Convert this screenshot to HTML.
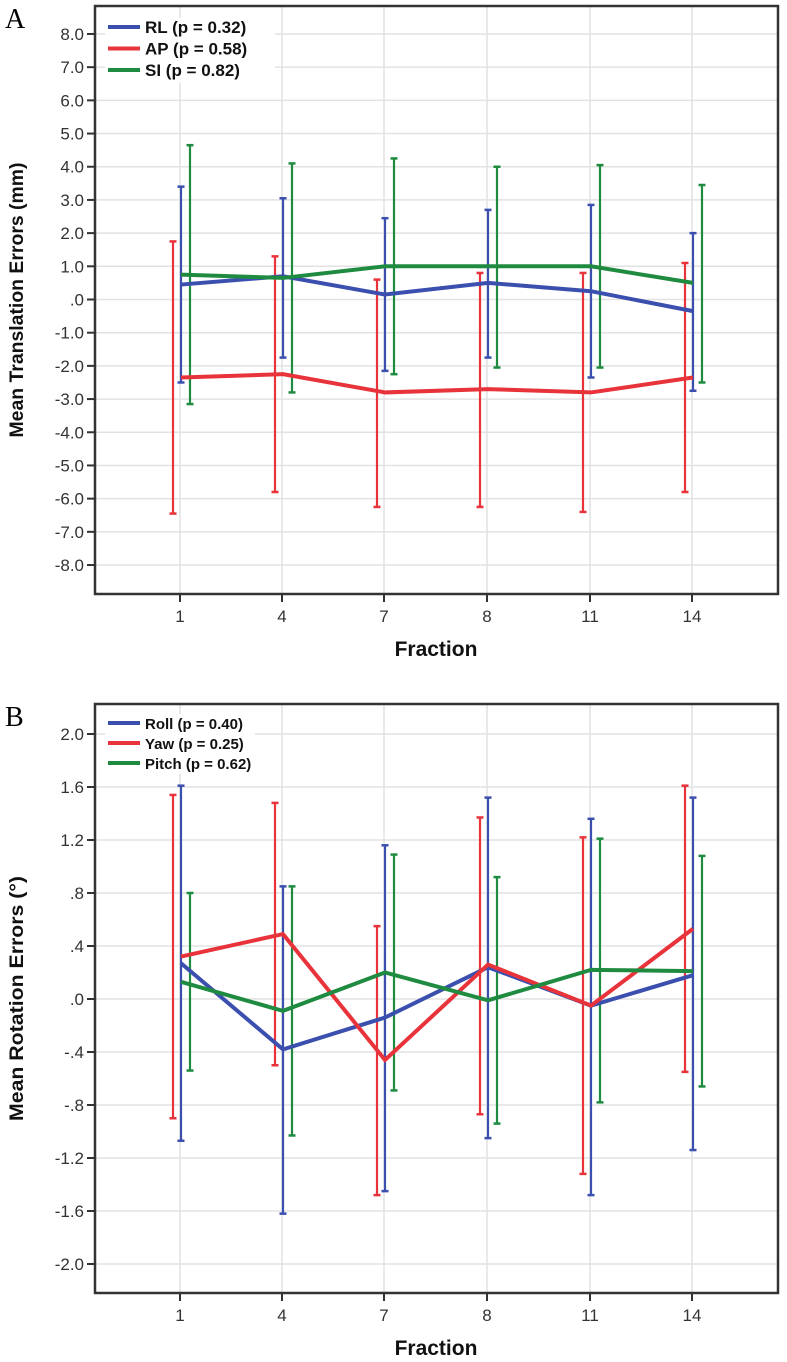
<!DOCTYPE html>
<html><head><meta charset="utf-8">
<style>
body{margin:0;background:#fff;}
svg text{font-family:"Liberation Sans",Arial,sans-serif;}
</style></head>
<body>
<svg id="chart" width="787" height="1357" xmlns="http://www.w3.org/2000/svg"></svg>
<script>
const categories = ["1","4","7","8","11","14"];
// Panel A (mm)
const aTicks = [8,7,6,5,4,3,2,1,0,-1,-2,-3,-4,-5,-6,-7,-8];
const aTickLabels = ["8.0","7.0","6.0","5.0","4.0","3.0","2.0","1.0",".0","-1.0","-2.0","-3.0","-4.0","-5.0","-6.0","-7.0","-8.0"];
const rlMean = [0.45,0.7,0.15,0.5,0.25,-0.35];
const rlHigh = [3.4,3.05,2.45,2.7,2.85,2.0];
const rlLow = [-2.5,-1.75,-2.15,-1.75,-2.35,-2.75];
const apMean = [-2.35,-2.25,-2.8,-2.7,-2.8,-2.35];
const apHigh = [1.75,1.3,0.6,0.8,0.8,1.1];
const apLow = [-6.45,-5.8,-6.25,-6.25,-6.4,-5.8];
const siMean = [0.75,0.65,1.0,1.0,1.0,0.5];
const siHigh = [4.65,4.1,4.25,4.0,4.05,3.45];
const siLow = [-3.15,-2.8,-2.25,-2.05,-2.05,-2.5];
// Panel B (deg)
const bTicks = [2.0,1.6,1.2,0.8,0.4,0,-0.4,-0.8,-1.2,-1.6,-2.0];
const bTickLabels = ["2.0","1.6","1.2",".8",".4",".0","-.4","-.8","-1.2","-1.6","-2.0"];
const rollMean = [0.27,-0.38,-0.14,0.24,-0.05,0.18];
const rollHigh = [1.61,0.85,1.16,1.52,1.36,1.52];
const rollLow = [-1.07,-1.62,-1.45,-1.05,-1.48,-1.14];
const yawMean = [0.32,0.49,-0.46,0.26,-0.05,0.53];
const yawHigh = [1.54,1.48,0.55,1.37,1.22,1.61];
const yawLow = [-0.9,-0.5,-1.48,-0.87,-1.32,-0.55];
const pitchMean = [0.13,-0.09,0.2,-0.01,0.22,0.21];
const pitchHigh = [0.8,0.85,1.09,0.92,1.21,1.08];
const pitchLow = [-0.54,-1.03,-0.69,-0.94,-0.78,-0.66];

const NS="http://www.w3.org/2000/svg";
const svg=document.getElementById('chart');
const BLUE="#3b4fae",RED="#e8333b",GREEN="#1f8b40";
function mk(tag,attrs,parent){const e=document.createElementNS(NS,tag);for(const k in attrs)e.setAttribute(k,attrs[k]);(parent||svg).appendChild(e);return e;}
const xPos=[180,282,384,487,590,692];
function xScale(i){return xPos[i];}

function panel(cfg){
  const g=mk('g',{});
  
  
  const y=v=>cfg.y0-v*cfg.k;
  const L=mk('text',{x:5,y:cfg.top+22,'font-size':28,style:'font-family:"Liberation Serif",serif'},g);
  L.textContent=cfg.letter;
  
  
  cfg.ticks.forEach((t,i)=>{
    const gl=mk('line',{x1:95,x2:778,y1:y(t),y2:y(t),stroke:'#e2e2e2','stroke-width':1.5},g);
    
    
    const tk=mk('line',{x1:87,x2:95,y1:y(t),y2:y(t),stroke:'#333','stroke-width':2},g);
    
    
    const tl=mk('text',{x:84,y:y(t)+6,'font-size':17,'text-anchor':'end',fill:'#333'},g);
    tl.textContent=cfg.labels[i];
    
    
  });
  categories.forEach((c,i)=>{
    const gl=mk('line',{x1:xScale(i),x2:xScale(i),y1:cfg.top,y2:cfg.bottom,stroke:'#e2e2e2','stroke-width':1.5},g);
    
    
    const tk=mk('line',{x1:xScale(i),x2:xScale(i),y1:cfg.bottom,y2:cfg.bottom+8,stroke:'#333','stroke-width':2},g);
    
    
    const tl=mk('text',{x:xScale(i),y:cfg.bottom+28,'font-size':17,'text-anchor':'middle',fill:'#333'},g);
    tl.textContent=c;
    
    
  });
  cfg.series.forEach(s=>{
    const sg=mk('g',{},g);
    
    
    s.mean.forEach((m,i)=>{
      const x=xScale(i)+s.off;
      const eb=mk('line',{x1:x,x2:x,y1:y(s.hi[i]),y2:y(s.lo[i]),stroke:s.color,'stroke-width':2.2},sg);
      
      
      [s.hi[i],s.lo[i]].forEach(v=>{
        const cap=mk('line',{x1:x-3.5,x2:x+3.5,y1:y(v),y2:y(v),stroke:s.color,'stroke-width':2.5},sg);
        
        
      });
    });
  });
  cfg.series.forEach(s=>{
    const pts=s.mean.map((m,i)=>(xScale(i)+1)+','+y(m)).join(' ');
    const pl=mk('polyline',{points:pts,fill:'none',stroke:s.color,'stroke-width':4,'stroke-linejoin':'miter'},g);
    
    
  });
  const fr=mk('rect',{x:95,y:cfg.top,width:683,height:cfg.bottom-cfg.top,fill:'none',stroke:'#333','stroke-width':2.5},g);
  
  
  cfg.series.forEach((s,i)=>{
    const ly=cfg.legY+i*cfg.legGap;
    const bg=mk('rect',{x:105,y:ly-9,width:cfg.legW,height:cfg.legGap,fill:'#fff'},g);
    
    
    const ll=mk('line',{x1:108,x2:140,y1:ly,y2:ly,stroke:s.color,'stroke-width':4},g);
    
    
    const lt=mk('text',{x:145,y:ly+6,'font-size':cfg.legFont,'font-weight':'bold',fill:'#111'},g);
    lt.textContent=s.label;
    
    
  });
  const xt=mk('text',{x:436,y:cfg.bottom+62,'font-size':21,'font-weight':'bold','text-anchor':'middle',fill:'#111'},g);
  xt.textContent='Fraction';
  
  
  const cy=(cfg.top+cfg.bottom)/2;
  const yt=mk('text',{x:0,y:0,'font-size':19,'font-weight':'bold','text-anchor':'middle',fill:'#111',transform:`translate(23,${cy}) rotate(-90)`,textLength:cfg.ytLen,lengthAdjust:'spacingAndGlyphs'},g);
  yt.textContent=cfg.ytitle;
  
  
}

panel({name:'translation-panel',letter:'A',top:6,bottom:594,y0:299.5,k:33.19,ticks:aTicks,labels:aTickLabels,
  legY:27,legGap:21.5,legW:170,legFont:17,ytitle:'Mean Translation Errors (mm)',ytLen:275,
  series:[
   {key:'rl',label:'RL (p = 0.32)',color:BLUE,off:1,mean:rlMean,hi:rlHigh,lo:rlLow},
   {key:'ap',label:'AP (p = 0.58)',color:RED,off:-7,mean:apMean,hi:apHigh,lo:apLow},
   {key:'si',label:'SI (p = 0.82)',color:GREEN,off:10,mean:siMean,hi:siHigh,lo:siLow}]});
panel({name:'rotation-panel',letter:'B',top:704,bottom:1293,y0:999,k:132.5,ticks:bTicks,labels:bTickLabels,
  legY:723,legGap:20,legW:150,legFont:15,ytitle:'Mean Rotation Errors (°)',ytLen:245,
  series:[
   {key:'roll',label:'Roll (p = 0.40)',color:BLUE,off:1,mean:rollMean,hi:rollHigh,lo:rollLow},
   {key:'yaw',label:'Yaw (p = 0.25)',color:RED,off:-7,mean:yawMean,hi:yawHigh,lo:yawLow},
   {key:'pitch',label:'Pitch (p = 0.62)',color:GREEN,off:10,mean:pitchMean,hi:pitchHigh,lo:pitchLow}]});
</script>
</body></html>
